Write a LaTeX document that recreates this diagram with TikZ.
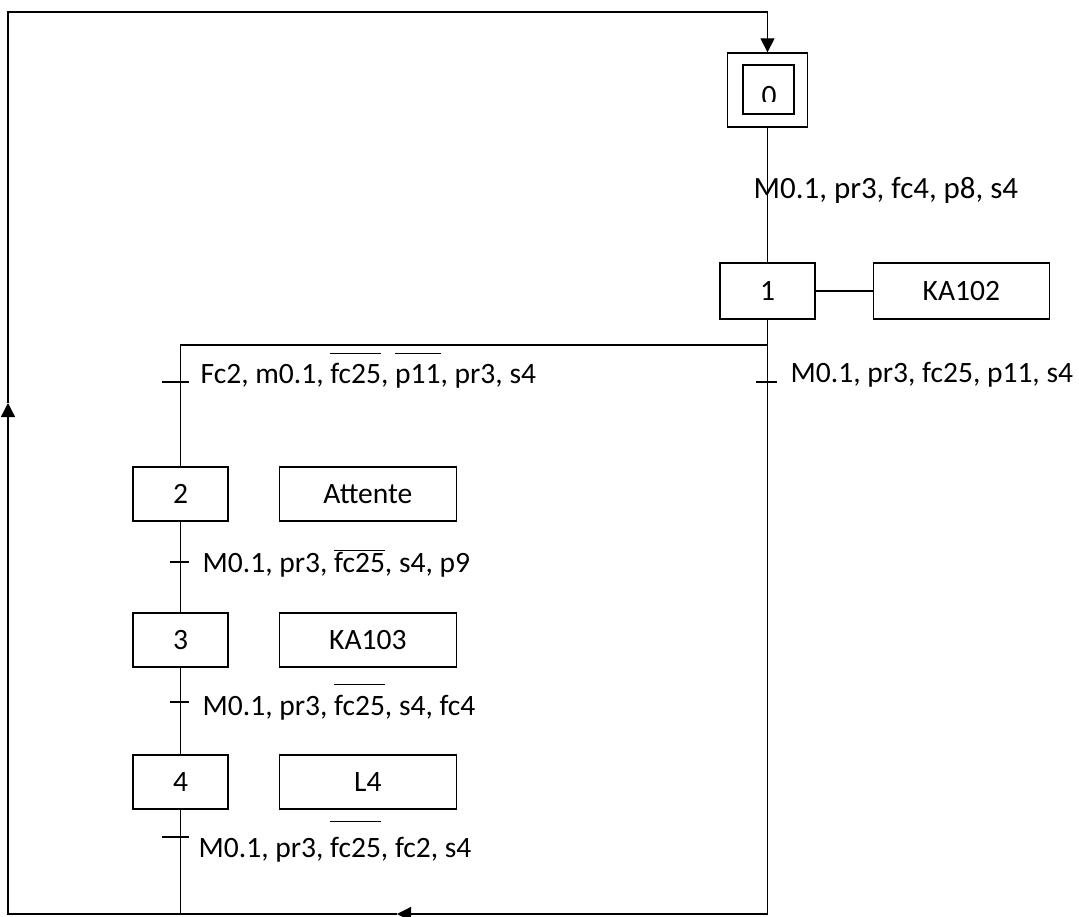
\documentclass[tikz,border=0pt]{standalone}
\usepackage{fontspec}
\setmainfont{Carlito}
\usetikzlibrary{positioning,arrows.meta}
\newcommand{\barre}[2][0pt]{$\overline{\mbox{\rule{0pt}{#1}#2}}$}

\begin{document}
\begin{tikzpicture}[x=0.025cm,y=-0.025cm,line width=0.95pt,
  node distance=0cm and 1.25cm,
  every node/.style={font=\fontsize{21}{25}\selectfont},
  stepbox/.style={draw,minimum width=2.375cm,minimum height=1.35cm,inner sep=0pt},
  actbox/.style={draw,minimum width=4.425cm,minimum height=1.35cm,inner sep=0pt},
  cond/.style={anchor=base west,inner sep=0pt},
  tip/.style={-{Triangle[length=10pt,width=10pt]}}
]
\useasboundingbox (0,0) rectangle (1079,916);

% initial step
\node[draw,minimum width=2cm,minimum height=1.85cm] (s0) at (767.5,90) {};
\node[draw,minimum width=1.275cm,minimum height=1.225cm] (s0in) at (768.5,89.5) {};
\begin{scope}
\clip (s0in.north west) rectangle (794,101);
\node (n0) at (769,96) {0};
\end{scope}

% steps and actions
\node[stepbox,minimum height=1.4cm] (s1) at (767.5,291) {1};
\node[actbox,minimum width=4.4cm,minimum height=1.4cm,right=1.425cm of s1] (a1) {KA102};
\node[stepbox] (s2) at (180.5,494) {2};
\node[actbox,right=of s2] (a2) {Attente};
\node[stepbox] (s3) at (180.5,640) {3};
\node[actbox,right=of s3] (a3) {KA103};
\node[stepbox] (s4) at (180.5,782) {4};
\node[actbox,right=of s4] (a4) {L4};

% loop corners
\coordinate (br) at (767.5,914);
\coordinate (bt) at (397,914);
\coordinate (bl) at (8,914);
\coordinate (lt) at (8,403);
\coordinate (tl) at (8,12);
\coordinate (tr) at (767.5,12);
\coordinate (div) at (767.5,345);

% transitions
\coordinate (t1) at (767.5,382);
\coordinate (t2) at (180.5,382);
\coordinate (t3) at (180.5,562);
\coordinate (t4) at (180.5,702);
\coordinate (t5) at (180.5,837);

\draw (s0.south) -- (s1.north);
\draw (s1.east) -- (a1.west);
\draw (s1.south) -- (br);
\draw (div) -| (s2.north);
\draw (s2.south) -- (s3.north);
\draw (s3.south) -- (s4.north);
\draw (s4.south) -- (s4.south |- br);
\draw[tip] (br) -- (bt);
\draw[tip] (bt) -- (bl) -- (lt);
\draw[tip] (lt) -- (tl) -- (tr) -- (s0.north);

\draw ([xshift=-0.3cm]t1) -- ([xshift=0.225cm]t1);
\draw ([xshift=-0.45cm]t2) -- ([xshift=0.2cm]t2);
\draw ([xshift=-0.25cm]t3) -- ([xshift=0.2cm]t3);
\draw ([xshift=-0.25cm]t4) -- ([xshift=0.2cm]t4);
\draw ([xshift=-0.45cm]t5) -- ([xshift=0.2cm]t5);

% receptivities
\node[cond,font=\fontsize{22}{26}\selectfont] (c0) at (753,198) {M0.1, pr3, fc4, p8, s4};
\node[cond] (c1) at (790,382) {M0.1, pr3, fc25, p11, s4};
\node[cond] (c2) at (200,383) {Fc2, m0.1, \barre[0.7cm]{fc25}, \barre[0.7cm]{p11}, pr3, s4};
\node[cond] (c3) at (202,572) {M0.1, pr3, \barre{fc25}, s4, p9};
\node[cond] (c4) at (202,715) {M0.1, pr3, \barre[0.72cm]{fc25}, s4, fc4};
\node[cond] (c5) at (198,857) {M0.1, pr3, \barre[0.85cm]{fc25}, fc2, s4};
\end{tikzpicture}
\end{document}
